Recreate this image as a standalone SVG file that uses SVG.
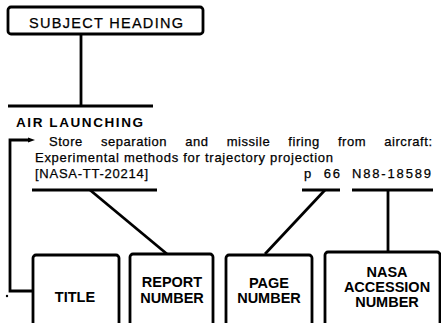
<svg xmlns="http://www.w3.org/2000/svg" width="441" height="323" viewBox="0 0 441 323">
<style>
.box{fill:#fff;stroke:#000;stroke-width:2.8}
.ln{fill:none;stroke:#000;stroke-width:2.8;stroke-linecap:butt}
.lbl{font-family:"Liberation Sans",Arial,Helvetica,sans-serif;font-weight:bold;font-size:14.5px;fill:#000;text-anchor:middle}
.body{font-family:"Liberation Sans",Arial,Helvetica,sans-serif;font-size:13px;fill:#000;stroke:#000;stroke-width:0.25}
</style>
<rect width="441" height="323" fill="#fff"/>
<g id="connectors">
<path class="ln" d="M81,34 V106"/>
<path class="ln" d="M8,106 H153"/>
<path class="ln" d="M30,140 H10 V291 H33"/>
<path d="M28,137.5 L35,140 L28,142.5 z" fill="#000"/>
<path class="ln" d="M32,190 H157"/>
<path class="ln" d="M90,190 L167,254"/>
<path class="ln" d="M302,190 H340"/>
<path class="ln" d="M325,190 L265,254"/>
<path class="ln" d="M352,190 H433"/>
<path class="ln" d="M388,190 V252"/>
<circle cx="7" cy="296" r="1.2" fill="#000"/>
</g>
<g id="subject-heading">
<rect class="box" x="8" y="7" width="195" height="27" rx="3"/>
<text class="body" x="29" y="28" style="font-size:14.5px" textLength="154" lengthAdjust="spacing">SUBJECT HEADING</text>
</g>
<g id="citation">
<text x="16" y="127" font-family="'Liberation Sans',Arial,sans-serif" font-weight="bold" font-size="13.5" textLength="127" lengthAdjust="spacing">AIR LAUNCHING</text>
<text class="body" x="49" y="146" word-spacing="14" textLength="383" lengthAdjust="spacing">Store separation and missile firing from aircraft:</text>
<text class="body" x="35" y="162" textLength="298" lengthAdjust="spacing">Experimental methods for trajectory projection</text>
<text class="body" x="35" y="178" textLength="113" lengthAdjust="spacing">[NASA-TT-20214]</text>
<text class="body" x="304" y="178" word-spacing="5" textLength="36" lengthAdjust="spacing">p 66</text>
<text class="body" x="352" y="178" textLength="79" lengthAdjust="spacing">N88-18589</text>
</g>
<g id="title-box">
<rect class="box" x="33" y="255" width="86" height="80" rx="3"/>
<text class="lbl" x="75" y="302">TITLE</text>
</g>
<g id="report-number-box">
<rect class="box" x="130" y="254" width="83" height="80" rx="3"/>
<text class="lbl" x="172" y="287">REPORT</text>
<text class="lbl" x="172" y="303">NUMBER</text>
</g>
<g id="page-number-box">
<rect class="box" x="226" y="255" width="86" height="80" rx="3"/>
<text class="lbl" x="269" y="288">PAGE</text>
<text class="lbl" x="269" y="303">NUMBER</text>
</g>
<g id="accession-number-box">
<rect class="box" x="325" y="252" width="115" height="80" rx="3"/>
<text class="lbl" x="387" y="277">NASA</text>
<text class="lbl" x="387" y="292">ACCESSION</text>
<text class="lbl" x="387" y="307">NUMBER</text>
</g>
</svg>
